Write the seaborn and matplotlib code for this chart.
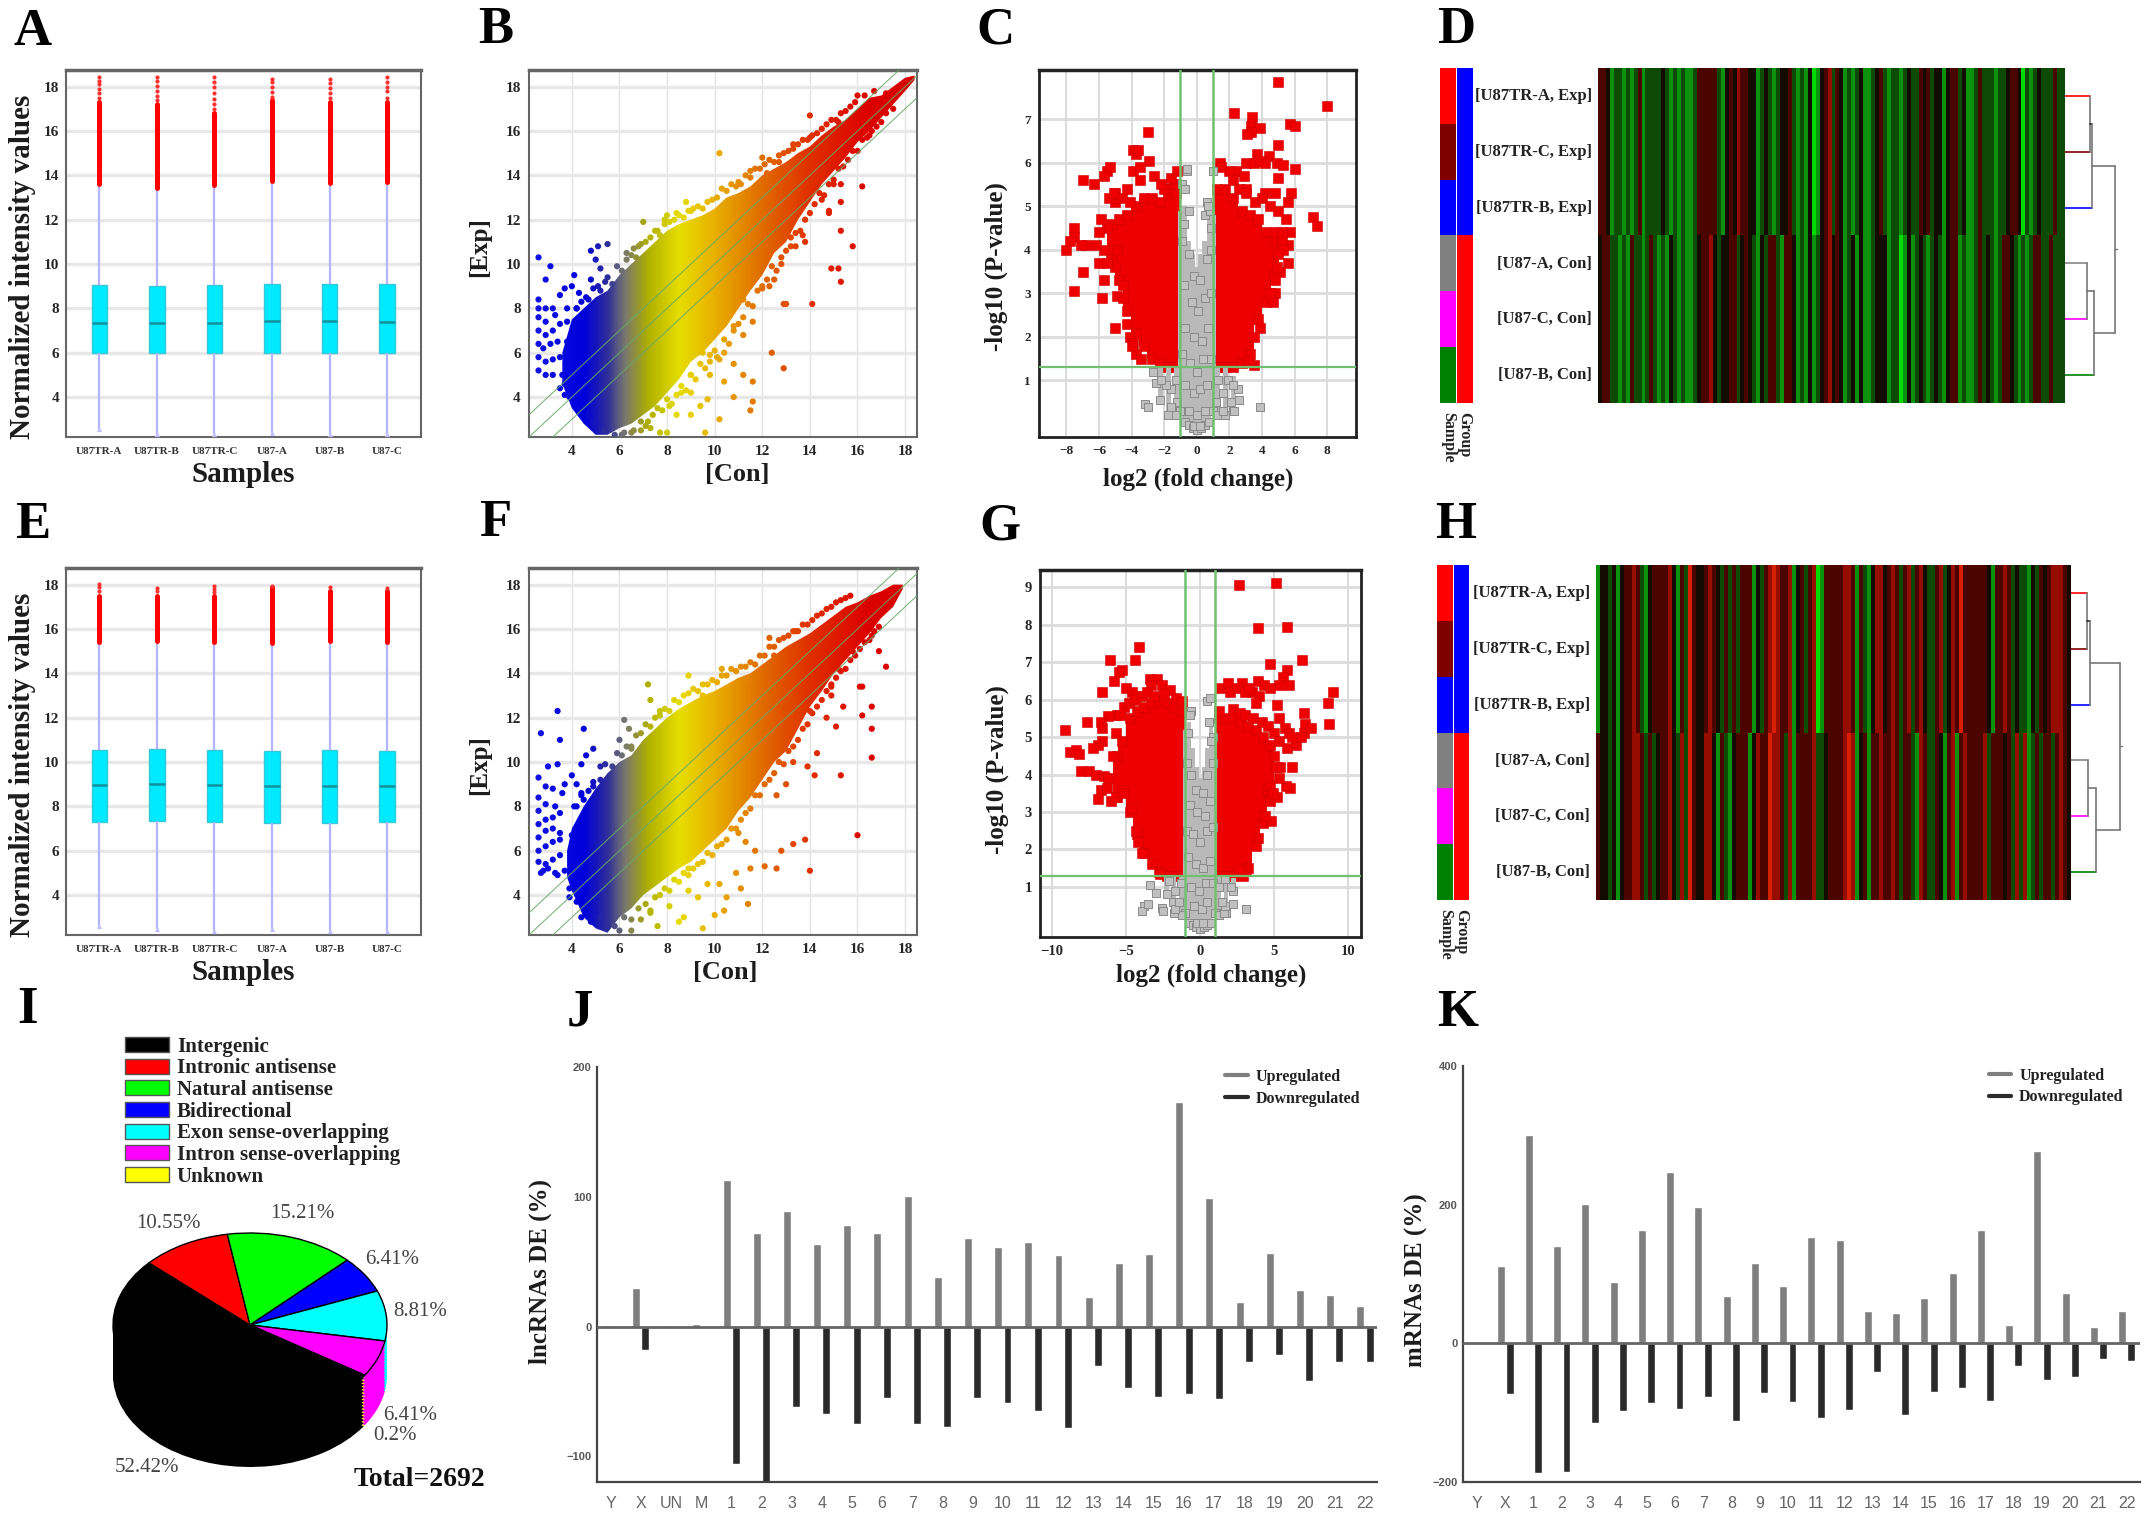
import numpy as np
import pandas as pd
import seaborn as sns
import matplotlib.pyplot as plt
from matplotlib.colors import LinearSegmentedColormap, ListedColormap
from matplotlib.lines import Line2D
from matplotlib.patches import Patch, Polygon

W, H = 2150, 1514
SERIF = 'Liberation Serif'
SANS = 'Liberation Sans'

samples = ['U87TR-A', 'U87TR-B', 'U87TR-C', 'U87-A', 'U87-B', 'U87-C']

# low whisker, q1, median, q3, high whisker
box_a = [[2.55, 6.0, 7.35, 9.05, 13.6], [2.35, 6.0, 7.33, 9.0, 13.45], [2.35, 6.0, 7.35, 9.05, 13.55],
         [2.4, 6.0, 7.42, 9.1, 13.75], [2.35, 6.0, 7.42, 9.08, 13.65], [2.35, 6.0, 7.38, 9.08, 13.7]]
dense_top_a = [17.3, 17.2, 16.8, 17.4, 17.3, 17.3]
sparse_a = [[17.5, 17.7, 17.9, 18.1, 18.25, 18.45], [17.4, 17.6, 17.8, 18.05, 18.25, 18.45],
            [17.0, 17.2, 17.45, 17.7, 18.0, 18.2, 18.45], [17.55, 17.75, 18.0, 18.2, 18.35],
            [17.5, 17.7, 17.95, 18.15, 18.35], [17.5, 17.8, 18.0, 18.2, 18.45]]
box_e = [[2.6, 7.3, 8.95, 10.55, 15.4], [2.45, 7.33, 9.0, 10.6, 15.45], [2.4, 7.3, 8.95, 10.55, 15.4],
         [2.45, 7.25, 8.9, 10.5, 15.35], [2.4, 7.25, 8.92, 10.55, 15.45], [2.4, 7.3, 8.92, 10.5, 15.4]]
dense_top_e = [17.5, 17.5, 17.5, 17.9, 17.7, 17.7]
sparse_e = [[17.7, 17.9, 18.05], [17.7, 17.85], [17.65, 17.8, 17.95], [17.95], [17.9], [17.85]]

con_grid_b = [3.6, 4, 4.5, 5, 5.5, 6, 6.5, 7, 7.5, 8, 8.5, 9, 9.5, 10, 10.5, 11, 11.5, 12, 12.5, 13, 13.5, 14,
              14.5, 15, 15.5, 16, 16.5, 17, 17.5, 18, 18.4]
exp_lo_b = [4.6, 3.5, 2.8, 2.3, 2.3, 2.6, 2.8, 3.2, 3.6, 4.2, 4.8, 5.6, 6.0, 6.6, 7.2, 8.0, 8.8, 9.5, 10.5, 11.0,
            12.0, 12.8, 13.6, 14.2, 14.8, 15.5, 16.0, 16.6, 17.2, 17.8, 18.3]
exp_hi_b = [6.0, 7.5, 8.0, 8.5, 8.8, 9.5, 10.0, 10.5, 11.0, 11.5, 11.8, 12.0, 12.2, 12.5, 13.0, 13.2, 13.5, 14.0,
            14.3, 14.6, 15.0, 15.3, 15.8, 16.2, 16.5, 17.0, 17.5, 17.6, 18.0, 18.4, 18.5]
out_x_b = [2.6, 3.1, 2.9, 2.6, 2.6, 2.9, 3.2, 2.6, 2.9, 3.3, 2.6, 2.9, 3.2, 3.5, 2.6, 2.8, 3.1, 3.4, 2.6, 2.9, 3.2, 3.5,
           2.6, 2.9, 3.2, 3.6, 3.5, 3.7, 4.0, 4.1, 4.3, 3.8, 4.2, 3.8, 3.8, 4.0, 3.5, 3.7, 4.8, 5.1, 5.5, 5.0, 5.2, 4.8,
           5.5, 4.6, 5.1, 6.8, 7.0, 6.3, 6.6, 8.0, 8.4, 8.8, 9.0, 7.6, 7.9, 10.2, 11.0, 11.5, 12.0, 12.2, 12.7, 13.3,
           14.0, 14.0, 15.2, 16.0, 17.2, 14.1, 15.3, 15.2, 14.9, 15.8, 15.3, 14.8, 14.8, 15.3, 16.2, 15.3, 14.5, 13.7,
           13.8, 13.2, 13.4, 13.0, 12.9, 12.4, 12.9, 11.6, 11.2, 11.6, 11.5, 10.4, 10.8, 10.2, 9.6, 9.4, 9.7, 9.0,
           8.4, 8.0, 7.7, 7.3, 6.5, 12.3, 12.5, 12.0, 11.2, 11.6, 11.2, 10.8, 10.4, 10.8, 9.8, 9.0, 9.5, 9.0, 10.1,
           11.9, 9.8, 8.6, 8.1, 7.2, 6.9, 6.1, 5.4, 5.0, 4.7, 13.3, 12.8, 14.5, 15.0, 16.5, 17.5]
out_y_b = [10.3, 9.9, 9.3, 8.4, 8.0, 8.0, 8.0, 7.6, 7.4, 7.7, 7.0, 6.8, 7.0, 7.3, 6.4, 6.2, 6.4, 6.5, 5.8, 5.6, 5.7, 5.8,
           5.2, 5.0, 5.0, 5.0, 8.6, 8.9, 9.0, 9.5, 8.7, 8.0, 8.0, 7.4, 6.5, 4.7, 4.4, 4.1, 10.6, 10.8, 10.9, 10.2, 9.8,
           9.3, 9.4, 8.5, 9.0, 10.8, 11.9, 10.5, 10.7, 12.2, 12.3, 12.8, 12.4, 11.5, 12.0, 15.0, 13.7, 14.2, 14.8, 14.1,
           14.6, 15.4, 16.7, 15.7, 16.4, 17.6, 17.7, 8.2, 9.2, 9.8, 9.8, 10.8, 11.5, 12.3, 12.4, 12.8, 13.5, 13.6, 14.0,
           11.3, 11.0, 11.2, 10.8, 8.2, 8.2, 6.0, 5.3, 4.7, 5.0, 3.8, 3.4, 4.7, 4.0, 3.0, 2.4, 3.6, 3.9, 4.2, 3.2, 2.4,
           2.4, 2.6, 2.4, 9.0, 9.3, 9.0, 8.4, 7.4, 6.8, 7.0, 6.0, 5.5, 5.0, 3.2, 6.0, 5.0, 5.8, 10.3, 5.6, 4.2, 3.6,
           2.9, 2.5, 2.3, 2.5, 2.8, 3.2, 12.0, 10.0, 12.9, 13.6, 15.8, 17.0]
fringe_x_b = [4.2, 4.4, 4.7, 4.9, 5.2, 5.4, 5.7, 5.9, 6.1, 6.3, 6.5, 6.7, 6.9, 7.1, 7.3, 7.5, 7.7, 7.9, 8.1, 8.3, 8.5, 8.7,
              8.9, 9.1, 9.3, 9.5, 9.7, 9.9, 10.1, 10.3, 10.5, 10.7, 10.9, 11.1, 11.3, 11.5, 11.7, 11.9, 12.1, 12.3, 12.5,
              12.7, 12.9, 13.1, 13.3, 13.5, 13.7, 13.9, 14.1, 14.3, 14.5, 14.7, 14.9, 15.1, 15.3, 15.5, 15.7, 15.9, 16.3,
              16.7, 5.8, 6.2, 6.6, 6.9, 7.1, 7.4, 7.6, 7.8, 8.0, 8.2, 8.4, 8.6, 8.8, 9.0, 9.2, 9.4, 9.6, 9.8, 10.0, 10.2,
              10.4, 10.6, 10.8, 11.0, 11.2, 11.4, 11.6, 11.8, 12.0, 12.2, 12.4, 12.6, 12.8, 13.0, 13.2, 13.4, 13.6, 13.8,
              14.0, 14.2, 14.4, 14.6, 14.8, 15.0, 15.2, 15.4, 15.6, 15.8, 16.0, 16.2, 16.4, 16.6, 16.8, 17.0, 17.2, 4.6,
              4.2, 3.9, 3.7]
fringe_y_b = [8.0, 8.3, 8.4, 8.9, 8.8, 9.2, 9.1, 9.9, 9.7, 10.2, 10.4, 10.3, 10.9, 11.0, 11.2, 11.5, 11.3, 11.8, 11.9, 12.0,
              12.2, 12.1, 12.4, 12.5, 12.6, 12.5, 12.8, 12.9, 13.0, 13.4, 13.3, 13.6, 13.5, 13.6, 14.0, 13.9, 14.3, 14.3,
              14.5, 14.7, 14.6, 14.9, 15.0, 15.1, 15.2, 15.4, 15.6, 15.6, 15.8, 15.9, 16.1, 16.3, 16.5, 16.5, 16.8, 16.9,
              17.1, 17.3, 17.6, 17.8, 2.3, 2.4, 2.5, 2.9, 2.7, 3.2, 3.5, 3.4, 3.9, 3.7, 4.1, 4.5, 4.3, 5.0, 4.8, 5.5, 5.3,
              5.9, 6.1, 5.7, 6.6, 6.4, 7.2, 7.3, 7.6, 8.2, 8.1, 8.8, 8.9, 9.3, 9.9, 9.7, 10.3, 10.6, 10.8, 11.4, 11.5, 12.0,
              12.3, 12.7, 13.2, 13.1, 13.6, 13.8, 14.3, 14.4, 14.7, 15.1, 15.1, 15.6, 15.7, 16.0, 16.2, 16.4, 16.8, 2.9,
              3.6, 4.0, 4.6]

con_grid_f = [3.8, 4, 4.5, 5, 5.5, 6, 6.5, 7, 7.5, 8, 8.5, 9, 9.5, 10, 10.5, 11, 11.5, 12, 12.5, 13, 13.5, 14, 14.5,
              15, 15.5, 16, 16.5, 17, 17.5, 17.9]
exp_lo_f = [4.8, 4.2, 3.0, 2.5, 2.3, 3.0, 3.4, 4.0, 4.4, 4.8, 5.2, 5.5, 6.0, 6.5, 7.0, 7.8, 8.4, 9.2, 10.0, 10.5,
            11.5, 12.5, 13.2, 14.0, 14.6, 15.2, 15.8, 16.5, 17.0, 17.8]
exp_hi_f = [6.0, 7.0, 8.0, 8.8, 9.5, 10.0, 10.3, 11.0, 11.5, 12.0, 12.4, 12.7, 13.0, 13.2, 13.5, 13.8, 14.0, 14.4,
            14.8, 15.2, 15.5, 15.8, 16.2, 16.6, 17.0, 17.2, 17.5, 17.7, 18.0, 18.0]
out_x_f = [3.4, 2.7, 4.5, 3.5, 2.6, 3.0, 3.4, 2.6, 2.9, 3.2, 2.6, 2.9, 3.3, 3.6, 2.6, 2.9, 3.2, 3.5, 2.6, 2.9, 3.2,
           3.5, 2.6, 2.9, 3.2, 2.6, 2.9, 3.2, 3.5, 2.7, 3.0, 3.3, 3.7, 2.8, 3.4, 3.9, 3.7, 4.0, 4.2, 4.4, 4.6, 4.9, 4.4,
           4.9, 5.2, 4.1, 4.5, 3.5, 4.0, 6.2, 6.5, 7.2, 6.0, 6.4, 7.3, 7.7, 8.9, 9.5, 10.3, 11.3, 11.8, 12.3, 12.5, 13.4,
           14.0, 15.3, 12.9, 16.6, 16.6, 17.2, 16.9, 16.6, 16.2, 16.1, 16.2, 16.6, 15.4, 15.1, 14.7, 14.9, 15.3, 14.3,
           13.8, 14.0, 13.4, 13.3, 13.9, 14.2, 16.0, 13.8, 14.0, 13.3, 12.6, 12.8, 11.7, 11.5, 11.1, 10.9, 10.4, 10.2,
           11.3, 11.0, 12.1, 11.4, 9.3, 8.9, 8.7, 8.5, 8.1, 7.6, 7.3, 6.9, 9.5, 10.0, 10.5, 9.7, 8.9, 12.6, 13.0, 14.9,
           15.2, 15.8, 6.5, 5.5, 5.2, 6.0]
out_y_f = [12.3, 11.3, 11.5, 11.0, 9.3, 9.8, 9.9, 8.4, 8.9, 8.8, 7.8, 8.1, 8.0, 8.6, 7.2, 7.4, 7.5, 7.7, 6.6, 6.9, 7.0,
           6.8, 6.0, 6.2, 6.4, 5.5, 5.4, 5.6, 5.8, 5.0, 5.2, 5.0, 5.1, 5.1, 4.9, 3.9, 9.0, 9.4, 9.0, 9.9, 10.3, 10.6, 8.6,
           8.9, 9.8, 8.0, 8.3, 6.5, 6.7, 11.9, 10.7, 13.5, 11.0, 11.5, 12.8, 12.3, 13.9, 13.0, 14.2, 13.6, 14.0, 15.6,
           14.8, 15.9, 15.1, 16.0, 14.5, 12.5, 11.5, 14.3, 15.0, 15.7, 13.4, 13.4, 12.1, 10.2, 12.5, 11.6, 12.0, 13.5,
           9.4, 10.4, 12.4, 12.3, 11.7, 10.0, 9.8, 9.4, 6.7, 6.5, 5.1, 6.3, 5.2, 6.0, 6.0, 5.2, 4.3, 5.0, 3.3, 4.5, 6.4,
           6.8, 5.3, 3.6, 3.9, 4.2, 3.0, 2.8, 3.5, 2.6, 3.3, 2.9, 2.5, 3.1, 3.9, 4.5, 5.2, 8.5, 9.0, 13.0, 14.2, 15.0, 2.4,
           2.6, 3.0, 2.4]
fringe_x_f = [4.2, 4.4, 4.7, 4.9, 5.2, 5.4, 5.7, 5.9, 6.1, 6.3, 6.5, 6.7, 6.9, 7.1, 7.3, 7.5, 7.7, 7.9, 8.1, 8.3, 8.5, 8.7,
              8.9, 9.1, 9.3, 9.5, 9.7, 9.9, 10.1, 10.3, 10.5, 10.7, 10.9, 11.1, 11.3, 11.5, 11.7, 11.9, 12.1, 12.3, 12.5,
              12.7, 12.9, 13.1, 13.3, 13.5, 13.7, 13.9, 14.1, 14.3, 14.5, 14.7, 14.9, 15.1, 15.3, 15.5, 15.7, 5.8, 6.2,
              6.5, 6.8, 7.1, 7.3, 7.5, 7.7, 7.9, 8.1, 8.3, 8.5, 8.7, 8.9, 9.1, 9.3, 9.5, 9.7, 9.9, 10.1, 10.3, 10.5, 10.7,
              10.9, 11.1, 11.3, 11.5, 11.7, 11.9, 12.1, 12.3, 12.5, 12.7, 12.9, 13.1, 13.3, 13.5, 13.7, 13.9, 14.1, 14.3,
              14.5, 14.7, 14.9, 15.1, 15.3, 15.5, 15.7, 15.9, 16.1, 16.3, 16.5, 16.7, 16.9, 4.8, 4.4, 4.2, 3.9]
fringe_y_f = [8.0, 8.5, 8.7, 9.1, 9.2, 9.9, 9.8, 10.4, 10.3, 10.7, 10.6, 11.2, 11.3, 11.7, 11.6, 12.0, 12.1, 12.4, 12.3, 12.8,
              12.7, 13.0, 13.1, 13.3, 13.2, 13.5, 13.5, 13.7, 13.6, 13.9, 13.9, 14.2, 14.1, 14.3, 14.3, 14.5, 14.4, 14.8,
              14.8, 15.2, 15.2, 15.5, 15.6, 15.7, 15.9, 15.9, 16.2, 16.2, 16.4, 16.6, 16.7, 16.9, 17.0, 17.2, 17.3, 17.4,
              17.5, 2.6, 3.0, 2.9, 3.4, 3.6, 3.2, 3.9, 4.0, 4.3, 4.2, 4.7, 4.6, 5.0, 4.9, 5.2, 5.4, 5.5, 5.9, 5.8, 6.2, 6.3,
              6.5, 7.0, 7.0, 7.4, 7.7, 7.9, 8.5, 8.5, 9.0, 9.2, 9.5, 10.0, 9.9, 10.5, 10.7, 11.0, 11.5, 11.7, 12.2, 12.5,
              12.8, 13.2, 13.4, 13.8, 14.1, 14.2, 14.6, 14.8, 15.1, 15.4, 15.5, 15.9, 16.1, 2.8, 3.0, 3.7, 4.3]

scatter_x_stops = [2.2, 4.5, 5.5, 6.2, 7.2, 8.5, 10, 12, 14, 16.5, 18.5]
scatter_colors = ['#1414e6', '#0000dc', '#303098', '#777770', '#b0b000', '#e6de00', '#e8b000', '#e06c00', '#e03000',
                  '#dc0000', '#d80000']

# volcano columns: centre of the column and the low / high edge of the solid mass
c_red_x = [-5.25, -4.75, -4.25, -3.75, -3.25, -2.75, -2.25, -1.75, -1.25, 1.25, 1.75, 2.25, 2.75, 3.25, 3.75, 4.25, 4.75]
c_red_lo = [3.8, 3.3, 2.6, 2.1, 1.8, 1.5, 1.4, 1.3, 1.3, 1.3, 1.3, 1.3, 1.4, 1.6, 2.4, 2.8, 3.4]
c_red_hi = [4.6, 4.7, 4.8, 5.0, 5.2, 5.2, 5.1, 5.3, 5.3, 5.4, 5.4, 5.2, 4.9, 4.8, 4.7, 4.4, 4.2]
c_pts_x = [-3, -3.9, -3.7, -3.6, -2.9, -5.5, -5.7, -5.3, -7, -6.3, -3.9, -3.5, -1.2, -1.4, -1.8, -2, -5, -5, -7.5, -5.5,
           -6, -7.5, -6.8, -7.1, -8, -7.8, -5.7, -6, -7, -5, -5.7, -5.8, -7.5, -4.9, -4.5, -5, -4.3, -4.1, -3.9, -3.7,
           -3.4, -4, 5, 8, 2.3, 3.4, 3.3, 3.9, 5.7, 6, 3.3, 3.1, 5, 3.7, 4.4, 3, 3.5, 3.9, 4.2, 4.9, 5.3, 6, 2.4, 2.9, 5,
           2, 1.4, 3, 4.2, 4.8, 5.6, 5.8, 7.1, 7.4, 5.5, 5.7, 5.6, 5.2, 4.8, 5.3, 5.6, 5.1, 4.8, 4.8, 4.7, 3.5, 3.2,
           -5.4, -5.1, -4.6, -4.3, -4.1, -3.5, -2.6, -2.2, -1.6, -5.9, -6.2, -5.5, -4.5, -4.9, 2.2, 2.6, 3, 3.6, 4, 4.5,
           5, 5.2, 5, 4.9, 4.5, 3.9, 3.5, 1.5]
c_pts_y = [6.7, 6.3, 6.2, 6.3, 6.05, 5.8, 5.7, 5.9, 5.6, 5.5, 5.8, 5.9, 5.8, 5.5, 5.4, 5.4, 5.3, 5.1, 4.5, 4.5, 4.4, 4.3,
           4.1, 4.1, 4.0, 4.2, 4.0, 3.7, 3.5, 3.6, 3.3, 2.9, 3.05, 2.95, 2.9, 2.2, 2.3, 2.0, 1.85, 1.6, 1.5, 1.8, 7.85, 7.3,
           7.15, 7.05, 6.85, 6.8, 6.9, 6.85, 6.7, 6.65, 6.4, 6.2, 6.15, 6.0, 6.0, 6.05, 6.0, 6.0, 5.95, 5.85, 5.8, 5.7,
           5.65, 5.8, 6.0, 5.4, 5.3, 5.3, 5.1, 5.3, 4.75, 4.55, 4.7, 4.4, 4.1, 4.2, 4.4, 4.0, 3.7, 3.5, 3.3, 3.0, 2.8,
           1.35, 1.45, 5.2, 5.3, 5.2, 5.4, 5.1, 5.6, 5.7, 5.5, 5.65, 4.7, 4.1, 3.7, 3.2, 4.0, 5.6, 5.4, 5.3, 5.1, 5.2, 5.0,
           4.9, 4.4, 3.9, 3.6, 3.0, 2.2, 2.0, 5.9]
c_gray_x = [-1, -0.75, -0.5, -0.25, 0, 0.25, 0.5, 0.75, 1, -2.25, -1.75, -1.25, 1.25, 1.75, 2.25]
c_gray_lo = [0.3, 0.05, -0.02, -0.1, -0.15, -0.1, -0.02, 0.05, 0.3, 0.55, 0.2, 0.2, 0.2, 0.2, 0.3]
c_gray_hi = [4.9, 5.0, 4.2, 3.9, 3.6, 3.9, 4.2, 5.0, 4.8, 1.3, 1.3, 1.3, 1.3, 1.3, 1.1]
c_gray_pts_x = [-0.9, -0.7, -0.6, -0.5, 0.5, 0.6, 0.8, 1.0, -3.2, -3, 3.9, -0.6, 0.7, -2.5, 2.5, -2.7, 2.6, -0.8, 0.9,
                -0.9, -0.5, -0.2, 0.2, 0.6, 0.9, -0.8, -0.3, 0.1, 0.5, 0.85, -0.7, -0.2, 0.3, 0.7, -0.9, -0.4, 0, 0.4, 0.9,
                -0.7, -0.2, 0.2, 0.6, -1.3, -1.6, -1.9, -2.2, 1.3, 1.6, 1.9, 2.2, -0.5, 0, 0.5, -0.2, 0.2, -1.2, 1.2, 1.6,
                -1.6, 2.1, 2.3]
c_gray_pts_y = [5.5, 5.4, 5.8, 4.9, 4.8, 5.1, 4.9, 5.8, 0.45, 0.4, 0.4, 5.85, 5.0, 0.95, 0.8, 1.2, 0.55, 4.6, 4.5,
                4.2, 3.9, 3.4, 3.3, 3.8, 4.0, 3.2, 2.8, 2.6, 2.9, 3.0, 2.2, 2.0, 1.9, 2.2, 1.6, 1.4, 1.2, 1.5, 1.5,
                0.9, 0.7, 0.8, 0.9, 1.0, 0.8, 0.9, 1.0, 1.0, 0.7, 1.0, 0.9, 0.3, 0.2, 0.3, -0.05, -0.05, 0.5, 0.5, 0.3,
                0.4, 0.5, 0.3]

g_red_x = [-5.6, -5.25, -4.75, -4.25, -3.75, -3.25, -2.75, -2.25, -1.75, -1.25, 1.25, 1.75, 2.25, 2.75, 3.25, 3.75, 4.25, 4.75]
g_red_lo = [3.4, 3.6, 3.0, 2.4, 1.9, 1.6, 1.4, 1.3, 1.3, 1.3, 1.3, 1.3, 1.3, 1.4, 1.5, 2.1, 2.7, 3.3]
g_red_hi = [4.5, 4.9, 5.5, 5.7, 5.8, 5.9, 6.0, 5.9, 5.8, 5.7, 5.5, 5.5, 5.5, 5.4, 5.3, 5.2, 5.0, 4.8]
g_pts_x = [-4.1, -4.4, -6.1, -5.3, -5.5, -5.8, -3.4, -2.9, -3.3, -2.6, -2, -6.6, -5, -4.6, -4.4, -5.6, -6.2, -6.7, -7.6,
           -6.6, -9.1, -6.6, -6.9, -7.2, -8.8, -8.4, -8.2, -8, -7.5, -7, -6.5, -6.2, -6.7, -6.3, -6.9, -6, -5.7, -4.2,
           -3.9, -2.7, 5.1, 2.6, 3.9, 5.9, 4.7, 6.9, 5.9, 5.6, 5.3, 6, 1.4, 1.9, 2.8, 3.9, 4.3, 4.7, 3.5, 4, 3.8, 2, 2.5,
           3, 3.3, 5.2, 5.3, 5.7, 6, 6.5, 6.2, 5.9, 6.2, 6.1, 5.8, 5.3, 5.2, 4.8, 7, 7.1, 7, 7.5, 6.8, 8.6, 8.95, 8.7,
           3.1, 2.9, 2.6, 5.0, 5.4, 4.6, -5.4, -5.1, -4.8, -4.4, -3.9, -3.6, -3.1, -2.4, -1.6, -1.2, -5.7, -5.9, -5.2,
           -4.6, -4.3, 1.3, 2.2, 2.7, 3.0, 3.6, 4.2, 4.6, 5.0, 5.3, 5.1, 4.7, 4.4, 3.9, 4.9]
g_pts_y = [7.4, 7.05, 7.05, 6.8, 6.75, 6.5, 6.55, 6.55, 6.4, 6.4, 6.25, 6.2, 6.3, 6.2, 6.1, 5.6, 5.55, 5.4, 5.4, 5.25, 5.2,
           4.9, 4.8, 4.7, 4.6, 4.65, 4.55, 4.1, 4.1, 4.0, 3.95, 3.9, 3.6, 3.65, 3.35, 3.3, 3.4, 2.2, 1.9, 1.35, 9.1, 9.05,
           7.9, 7.95, 6.95, 7.05, 6.8, 6.6, 6.4, 6.4, 6.3, 6.45, 6.45, 6.5, 6.4, 6.3, 6.2, 6.1, 5.9, 6.2, 6.3, 6.2, 6.3,
           5.85, 5.5, 5.25, 5.1, 4.8, 5.0, 4.7, 4.2, 3.65, 3.7, 3.9, 3.4, 2.75, 5.65, 5.35, 5.1, 5.25, 5.0, 5.9, 6.2, 5.35,
           1.45, 1.3, 1.45, 4.5, 4.2, 3.6, 5.6, 5.8, 5.9, 6.0, 6.1, 6.2, 6.1, 6.15, 6.05, 5.95, 5.1, 4.5, 3.5, 3.1, 2.5, 5.7,
           5.75, 5.65, 5.6, 5.5, 5.4, 5.3, 5.1, 4.9, 4.2, 3.7, 2.9, 2.3, 3.5]
g_gray_x = [-1, -0.75, -0.5, -0.25, 0, 0.25, 0.5, 0.75, 1, -2.25, -1.75, -1.25, 1.25, 1.75, 2.25]
g_gray_lo = [0.3, 0.05, -0.02, -0.08, -0.12, -0.08, -0.02, 0.05, 0.3, 0.8, 0.3, 0.25, 0.25, 0.3, 0.9]
g_gray_hi = [5.2, 5.4, 4.7, 4.2, 3.9, 4.2, 4.7, 5.3, 5.0, 1.3, 1.3, 1.3, 1.3, 1.3, 1.25]
g_gray_pts_x = [-3.4, -3, -3.8, -3.9, -3.5, -2.6, -2.5, -1.8, -1.7, 3.1, 2.2, 1.6, 1.7, -0.6, 0.5, 0.7, 0.9, -0.8, -0.7,
                0.6, 0.75, -0.9, -0.6, -0.3, 0.2, 0.5, 0.9, -0.7, -0.2, 0.3, 0.7, -0.9, -0.5, 0, 0.5, 0.85, -0.8, -0.3,
                0.2, 0.7, -0.6, -0.1, 0.4, 0.9, -0.4, 0.1, 0.5, -0.2, 0.2, -1.3, -1.7, -2.1, 1.3, 1.7, 2.1, -1.4, 1.5]
g_gray_pts_y = [1.05, 0.85, 0.5, 0.35, 0.55, 0.45, 0.35, 0.6, 0.4, 0.4, 0.55, 0.3, 0.5, 5.7, 5.95, 6.05, 5.0, 5.1, 5.6,
                5.4, 4.9, 4.3, 4.0, 3.6, 3.5, 4.0, 4.3, 3.2, 3.0, 2.9, 3.3, 2.5, 2.4, 2.2, 2.5, 2.6, 1.8, 1.6, 1.5, 1.7,
                1.0, 0.9, 1.1, 1.1, 0.5, 0.4, 0.6, 0.05, 0.05, 1.1, 0.9, 1.15, 1.0, 1.2, 1.0, 0.6, 0.6]

row_names = ['[U87TR-A, Exp]', '[U87TR-C, Exp]', '[U87TR-B, Exp]', '[U87-A, Con]', '[U87-C, Con]', '[U87-B, Con]']
sample_colors = ['#ff0000', '#800000', '#0000ff', '#808080', '#ff00ff', '#008000']
group_codes = [0, 0, 0, 1, 1, 1]
group_colors = ['#0000ff', '#ff0000']

stripes_exp_d = [1, 1, 0, -2, -1, -1, -2, -1, -2, -1, 1, -2, -1, -1, -1, -1, 0, -1, -2, -1, -2, -1, -2, -2, -1, 1, 1, 1, 1, 1,
                 -1, -2, 0, 1, 0, 2, 1, 1, 0, 0, -2, -1, 0, -1, -2, -1, 0, 0, 1, -1, -2, -1, -2, 0, -3, -2, 0, 1, 2, -1,
                 1, 0, -2, -1, -2, -1, 0, -2, -2, -1, 0, 1, -1, -2, -1, -1, -2, -1, 0, -1, -1, 1, 0, 1, -1, 0, 0, -2, 0, 1,
                 1, -1, 0, -2, -2, -1, 1, -1, -1, -1, -2, -1, -1, 0, 1, 1, 0, -3, -1, -2, -1, 0, -1, -1, -1, 1, -1, -1]
stripes_con_d = [0, 1, 1, -1, -1, -2, -1, -2, 1, -1, -1, -2, -1, 1, -1, -2, -1, -2, 0, -1, -2, -1, -2, -2, -1, 0, 1, 1, 2, 0,
                 -1, 0, 0, 1, 1, -1, 0, 1, 0, -1, -2, 0, -1, 1, 1, -1, -2, 1, 1, 0, -2, -1, -2, 0, -2, -1, 0, 1, 2, 0,
                 1, 0, -2, -1, 0, -2, 0, -2, -2, -1, 0, 0, 0, -2, -1, -1, -3, -2, 0, -2, -1, 0, -1, -2, -1, 0, -1, -2, 0, 1,
                 1, -2, -1, -2, -2, -1, 1, -1, 0, -1, -2, -1, 1, 1, 0, -1, -2, -1, -2, -1, 1, 1, -1, -1, 1, -1, -1, -1]
stripes_exp_h = [-2, 0, 0, -1, 0, -2, 0, 1, 1, 2, 1, -1, -2, 0, 1, 1, 1, 1, 2, 0, -2, 1, -1, 3, 1, 0, 0, 1, 2, 1, 0, -1, 1, -1,
                 1, -1, 1, 1, 1, -2, 0, -1, 1, 2, 3, 2, 1, 1, 2, -2, 0, 1, -1, 1, 2, -3, -2, 1, 1, 1,
                 1, 1, 2, 2, 1, -2, 1, -1, -2, 0, 2, 2, 0, 1, 2, 1, -1, 1, 2, -1, 1, 2, 0, -1, -1, 1, 2, -1, 0, 2, 1, 3, 1,
                 1, 1, 1, 1, 1, 0, -2, 1, 1, 2, 1, -1, 0, -1, -1, -2, 0, -1, 1, 0, 1, 2, 2, 2, 1, 0]
stripes_con_h = [1, 0, 0, -1, 0, -2, 0, 1, 1, 2, 2, 1, -1, 1, -1, 0, 1, 1, 2, 0, -1, 2, -1, 3, 1, 0, 0, 2, 2, 0, -2, 1, -1, -2,
                 0, 1, 1, 1, -2, 0, 2, 1, 1, 3, 2, 2, 1, -1, 2, -2, 1, 1, 1, 1, 2, -1, -1, 0, 1, 1,
                 1, 1, 2, 3, 2, -2, 0, 1, -2, 1, 1, 2, 1, 1, 2, 1, -1, 1, 1, -1, -2, 2, 1, -1, -1, 1, 0, -2, 1, 2, -2, 1, 2,
                 1, 1, 1, 1, 2, -1, 1, 1, 1, 0, 1, -1, 2, -1, 2, -2, -1, 1, -1, 1, 1, -1, 1, 2, 1, 0]

# dendrogram merge heights: top pair, top join, bottom pair, bottom join, root
tree_d = [25, 27, 22, 29, 50]
tree_h = [16, 19, 17, 25, 49]

pie_names = ['Intergenic', 'Intronic antisense', 'Natural antisense', 'Bidirectional', 'Exon sense-overlapping',
             'Intron sense-overlapping', 'Unknown']
pie_values = [52.42, 10.55, 15.21, 6.41, 8.81, 6.41, 0.2]
pie_colors = ['#000000', '#ff0000', '#00ff00', '#0000ff', '#00ffff', '#ff00ff', '#ffff00']

chrom_j = ['Y', 'X', 'UN', 'M'] + [str(i) for i in range(1, 23)]
up_j = [1, 30, 1, 2, 113, 72, 89, 64, 78, 72, 101, 38, 68, 61, 65, 55, 23, 49, 56, 173, 99, 19, 57, 28, 24, 16]
down_j = [0, -18, 0, 0, -106, -122, -62, -67, -75, -55, -75, -77, -55, -59, -65, -78, -30, -47, -54, -52, -56, -27, -22,
          -42, -27, -27]
chrom_k = ['Y', 'X'] + [str(i) for i in range(1, 23)]
up_k = [0, 111, 300, 141, 201, 89, 163, 247, 197, 68, 116, 82, 154, 149, 46, 44, 66, 102, 164, 26, 277, 73, 23, 46]
down_k = [0, -73, -187, -186, -115, -97, -86, -95, -77, -112, -72, -84, -107, -96, -41, -103, -70, -65, -83, -32, -53,
          -48, -23, -26]

sns.set_theme(style='white')
plt.rcParams['font.family'] = [SERIF, 'DejaVu Serif']
plt.rcParams['font.weight'] = 'bold'

fig = plt.figure(figsize=(W / 100, H / 100), dpi=100, facecolor='white')


def px_axes(l, t, r, b):
    return fig.add_axes([l / W, 1 - b / H, (r - l) / W, (b - t) / H])


def px_text(x, y, s, **kw):
    kw.setdefault('ha', 'center')
    kw.setdefault('va', 'center')
    fig.text(x / W, 1 - y / H, s, **kw)


def frame(ax, color, lw=1.5, top=2.5):
    for name, spine in ax.spines.items():
        spine.set_visible(True)
        spine.set_color(color)
        spine.set_linewidth(top if name == 'top' else lw)


def boxes(ax, stats, dense_top, sparse):
    df = pd.DataFrame({'sample': [s for s in samples for _ in range(5)], 'value': np.ravel(stats)})
    ax.set_axisbelow(True)
    ax.grid(axis='y', color='#e8e8e8', lw=2.5)
    sns.boxplot(data=df, x='sample', y='value', order=samples, whis=(0, 100), width=0.27, fliersize=0, ax=ax,
                color='#00e6ff', saturation=1,
                boxprops=dict(facecolor='#00eaff', edgecolor='#35c8d8', lw=1),
                whiskerprops=dict(color='#b4b4ff', lw=1.6), capprops=dict(lw=0),
                medianprops=dict(color='#12909c', lw=1.8))
    for i, name in enumerate(samples):
        ax.plot([i, i], [stats[i][4], dense_top[i]], color='#ff0000', lw=3.6, solid_capstyle='round', zorder=4)
        ax.scatter([i] * len(sparse[i]), sparse[i], s=9, color='#ff3030', lw=0, zorder=4)
        ax.scatter([i], [stats[i][0]], s=14, marker='^', color='#c0c0ff', lw=0, zorder=4)
    ax.set_xlim(-0.58, 5.59)
    ax.set_ylim(2.2, 18.75)
    ax.set_yticks(range(4, 19, 2))
    ax.set_xlabel('')
    ax.set_ylabel('')
    ax.tick_params(axis='y', length=3, width=0.8, labelsize=11, color='#666666', pad=2)
    ax.tick_params(axis='x', length=3, width=0.8, labelsize=8, color='#666666', pad=4, labelcolor='#333333')
    frame(ax, '#666666')


def cloud(ax, grid, lo, hi, px, py):
    cmap = LinearSegmentedColormap.from_list(
        'xa', [((s - 2.2) / 16.3, c) for s, c in zip(scatter_x_stops, scatter_colors)])
    ax.set_axisbelow(True)
    ax.grid(axis='y', color='#e8e8e8', lw=2.5)
    ax.grid(axis='x', color='#e4e4e4', lw=1)
    img = ax.imshow(np.linspace(0, 1, 400).reshape(1, -1), extent=(2.2, 18.5, 2.2, 18.75), aspect='auto', cmap=cmap,
                    vmin=0, vmax=1, zorder=2)
    outline = np.column_stack([list(grid) + list(grid)[::-1], list(lo) + list(hi)[::-1]])
    patch = Polygon(outline, closed=True, transform=ax.transData, facecolor='none', edgecolor='none')
    ax.add_patch(patch)
    img.set_clip_path(patch)
    sns.scatterplot(x=px, y=py, hue=px, palette=cmap, hue_norm=(2.2, 18.5), legend=False, s=20, linewidth=0, ax=ax,
                    zorder=3)
    for offset in (-1, 0, 1):
        ax.axline((5, 5 + offset), slope=1, color='#6aa86a', lw=0.8, alpha=0.85, zorder=4)
    ax.set_xlim(2.2, 18.5)
    ax.set_ylim(2.2, 18.75)
    ax.set_xticks(range(4, 19, 2))
    ax.set_yticks(range(4, 19, 2))
    ax.tick_params(length=3, width=0.8, labelsize=11, color='#666666', pad=3)
    frame(ax, '#666666')


def volcano(ax, red_x, red_lo, red_hi, pts_x, pts_y, gray_x, gray_lo, gray_hi, gpts_x, gpts_y, msize):
    ax.set_axisbelow(True)
    ax.grid(axis='y', color='#dcdcdc', lw=2)
    ax.grid(axis='x', color='#d4d4d4', lw=1.2)
    ax.bar(red_x, np.array(red_hi) - np.array(red_lo), bottom=red_lo, width=0.54, color='#ee0000', lw=0, zorder=2)
    both_x = list(red_x) + list(red_x) + list(pts_x)
    both_y = list(red_lo) + list(red_hi) + list(pts_y)
    sns.scatterplot(x=both_x, y=both_y, marker='s', color='#ee0000', edgecolor='#d00000', linewidth=0.4, s=msize, ax=ax,
                    zorder=3)
    ax.bar(gray_x, np.array(gray_hi) - np.array(gray_lo), bottom=gray_lo, width=0.3, color='#b9b9b9', lw=0, zorder=4)
    sns.scatterplot(x=list(gray_x) + list(gpts_x), y=list(gray_lo) + list(gpts_y), marker='s', color='#c0c0c0',
                    edgecolor='#8a8a8a', linewidth=0.7, s=msize * 0.75, ax=ax, zorder=5)
    ax.axvline(-1, color='#70c070', lw=1.8, zorder=6)
    ax.axvline(1, color='#70c070', lw=1.8, zorder=6)
    ax.axhline(1.3, color='#70c070', lw=1.6, zorder=6)
    frame(ax, '#222222', lw=2, top=2.5)


def heat_block(top, bottom, heat_l, heat_r, strip, stripes_exp, stripes_con, tree, label_x):
    cmap = LinearSegmentedColormap.from_list(
        'gbr', [(0, '#00dc00'), (1 / 6, '#0c900c'), (2 / 6, '#0d4a05'), (0.5, '#120a00'), (4 / 6, '#4a0500'),
                (5 / 6, '#950c00'), (1, '#d82000')])
    ax = px_axes(heat_l, top, heat_r, bottom)
    matrix = np.array([stripes_exp] * 3 + [stripes_con] * 3)
    sns.heatmap(matrix, cmap=cmap, vmin=-3, vmax=3, cbar=False, xticklabels=False, yticklabels=False, ax=ax)

    ax = px_axes(strip[0], top, strip[1], bottom)
    sns.heatmap(np.arange(6).reshape(-1, 1), cmap=ListedColormap(sample_colors), cbar=False, xticklabels=False,
                yticklabels=False, ax=ax)
    ax = px_axes(strip[1] + 1, top, strip[2], bottom)
    sns.heatmap(np.array(group_codes).reshape(-1, 1), cmap=ListedColormap(group_colors), cbar=False, xticklabels=False,
                yticklabels=False, ax=ax)
    px_text((strip[0] + strip[1]) / 2, bottom + 9, 'Sample', rotation=270, fontsize=11.5, va='top', color='#222222')
    px_text((strip[1] + strip[2]) / 2, bottom + 9, 'Group', rotation=270, fontsize=11.5, va='top', color='#222222')

    row_h = (bottom - top) / 6
    for i, name in enumerate(row_names):
        px_text(label_x, top + row_h * (i + 0.5), name, ha='right', fontsize=12, color='#222222')

    ax = px_axes(heat_r, top, heat_r + 56, bottom)
    ax.axis('off')
    ax.set_xlim(0, 56)
    ax.set_ylim(6, 0)
    h1, h2, h3, h4, h5 = tree
    gray = '#777777'
    leaf_h = [h1, h1, h2, h3, h3, h4]
    for i, c in enumerate(sample_colors):
        ax.plot([0, leaf_h[i]], [i + 0.5, i + 0.5], color='#888888' if c == '#808080' else c, lw=1.2)
    ax.plot([h1, h1], [0.5, 1.5], color=gray, lw=1.2)
    ax.plot([h1, h2], [1, 1], color='#222222', lw=1.2)
    ax.plot([h2, h2], [1, 2.5], color=gray, lw=1.2)
    ax.plot([h2, h5], [1.75, 1.75], color=gray, lw=1.2)
    ax.plot([h3, h3], [3.5, 4.5], color=gray, lw=1.2)
    ax.plot([h3, h4], [4, 4], color=gray, lw=1.2)
    ax.plot([h4, h4], [4, 5.5], color=gray, lw=1.2)
    ax.plot([h4, h5], [4.75, 4.75], color=gray, lw=1.2)
    ax.plot([h5, h5], [1.75, 4.75], color=gray, lw=1.2)
    ax.plot([h5, h5 + 1.5], [3.25, 3.25], color=gray, lw=1)


def updown(ax, chrom, up, down, ylim, yticks, xlim, width, gap):
    df = pd.DataFrame({'chrom': chrom + chrom, 'value': up + down, 'kind': ['Up'] * len(up) + ['Down'] * len(down)})
    sns.barplot(data=df, x='chrom', y='value', hue='kind', order=chrom, hue_order=['Up', 'Down'], dodge=True, width=width,
                gap=gap, palette={'Up': '#7f7f7f', 'Down': '#2a2a2a'}, saturation=1, legend=False, ax=ax, zorder=2)
    ax.axhline(0, color='#666666', lw=2, zorder=3)
    ax.set_xlim(*xlim)
    ax.set_ylim(*ylim)
    ax.set_yticks(yticks)
    ax.set_xlabel('')
    ax.set_ylabel('')
    sns.despine(ax=ax)
    for side in ('left', 'bottom'):
        ax.spines[side].set_color('#444444')
        ax.spines[side].set_linewidth(1.6)
    ax.tick_params(axis='x', length=4, width=1.2, color='#555555', pad=6, labelsize=11.5, labelcolor='#666666')
    ax.tick_params(axis='y', length=3, width=1, color='#555555', pad=1, labelsize=8, labelcolor='#555555')
    for t in ax.get_xticklabels():
        t.set_family(SANS)
        t.set_weight('normal')
    for t in ax.get_yticklabels():
        t.set_family(SANS)
    handles = [Line2D([], [], color='#7f7f7f', lw=3), Line2D([], [], color='#2a2a2a', lw=3)]
    ax.legend(handles, ['Upregulated', 'Downregulated'], loc='upper right', bbox_to_anchor=(0.997, 1.03), frameon=False,
              fontsize=11.5, handlelength=1.4, handletextpad=0.5, labelspacing=0.35, labelcolor='#222222')


# A, E
ax = px_axes(66, 70, 421, 437)
boxes(ax, box_a, dense_top_a, sparse_a)
ax = px_axes(66, 568, 421, 935)
boxes(ax, box_e, dense_top_e, sparse_e)
# B, F
ax = px_axes(529, 70, 917, 437)
cloud(ax, con_grid_b, exp_lo_b, exp_hi_b, out_x_b + fringe_x_b, out_y_b + fringe_y_b)
ax = px_axes(529, 568, 917, 935)
cloud(ax, con_grid_f, exp_lo_f, exp_hi_f, out_x_f + fringe_x_f, out_y_f + fringe_y_f)

# C, G
ax = px_axes(1039, 70, 1356, 437)
volcano(ax, c_red_x, c_red_lo, c_red_hi, c_pts_x, c_pts_y, c_gray_x, c_gray_lo, c_gray_hi, c_gray_pts_x, c_gray_pts_y, 52)
ax.set_xlim(-9.67, 9.76)
ax.set_ylim(-0.3, 8.13)
ax.set_xticks(range(-8, 9, 2))
ax.set_yticks(range(1, 8))
ax.tick_params(length=3, width=0.8, labelsize=9.5, color='#444444', pad=3)
ax = px_axes(1040, 570, 1361, 937)
volcano(ax, g_red_x, g_red_lo, g_red_hi, g_pts_x, g_pts_y, g_gray_x, g_gray_lo, g_gray_hi, g_gray_pts_x, g_gray_pts_y, 52)
ax.set_xlim(-10.8, 10.86)
ax.set_ylim(-0.336, 9.46)
ax.set_xticks(range(-10, 11, 5))
ax.set_yticks(range(1, 10))
ax.tick_params(length=3, width=0.8, labelsize=10.5, color='#444444', pad=3)

# D, H
heat_block(68, 403, 1598, 2065, (1440, 1456, 1473), stripes_exp_d, stripes_con_d, tree_d, 1592)
heat_block(565, 900, 1596, 2071, (1437, 1453, 1469), stripes_exp_h, stripes_con_h, tree_h, 1590)

# I
ax = px_axes(113, 1233, 387, 1467)
depth_steps = np.linspace(0.543, 0.02, 16)
for d in depth_steps:
    ax.pie(pie_values, colors=pie_colors, startangle=326.2, counterclock=False, center=(0, -d), radius=1,
           wedgeprops=dict(lw=0))
ax.pie(pie_values, colors=pie_colors, startangle=326.2, counterclock=False, radius=1,
       wedgeprops=dict(edgecolor='#000000', lw=1))
ax.set_aspect('auto')
ax.set_xlim(-1, 1)
ax.set_ylim(-1.543, 1)
pie_handles = [Patch(facecolor=c, edgecolor='#555555', lw=1) for c in pie_colors]
fig.legend(pie_handles, pie_names, loc='upper left', bbox_to_anchor=(106 / W, 1 - 1018 / H), frameon=False, fontsize=15,
           handlelength=2.1, handleheight=0.75, handletextpad=0.4, labelspacing=0.08, labelcolor='#222222')
pie_label_text = ['10.55%', '15.21%', '6.41%', '8.81%', '6.41%', '0.2%', '52.42%']
pie_label_x = [168, 302, 392, 420, 410, 395, 147]
pie_label_y = [1223, 1213, 1260, 1312, 1415, 1436, 1467]
for s, x, y in zip(pie_label_text, pie_label_x, pie_label_y):
    px_text(x, y, s, fontsize=15, weight='normal', color='#444444')
px_text(420, 1480, 'Total=2692', fontsize=20, color='#111111')

# J, K
ax = px_axes(597, 1067, 1377, 1482)
updown(ax, chrom_j, up_j, down_j, (-119.7, 200), [-100, 0, 100, 200], (-0.45, 25.4), 0.62, 0.15)
ax = px_axes(1463, 1066, 2140, 1482)
updown(ax, chrom_k, up_k, down_k, (-200, 400), [-200, 0, 200, 400], (-0.5, 23.47), 0.66, 0.15)

# axis titles
axis_titles = [(23, 267, 'Normalized intensity values', 90, 21), (243, 475, 'Samples', 0, 21), (480, 247, '[Exp]', 90, 18),
               (737, 475, '[Con]', 0, 19), (996, 267, '-log10 (P-value)', 90, 18), (1198, 479, 'log2 (fold change)', 0, 18),
               (23, 765, 'Normalized intensity values', 90, 21), (243, 973, 'Samples', 0, 21), (480, 765, '[Exp]', 90, 18),
               (725, 973, '[Con]', 0, 19), (997, 770, '-log10 (P-value)', 90, 18), (1211, 975, 'log2 (fold change)', 0, 18),
               (540, 1272, 'lncRNAs DE (%)', 90, 18), (1416, 1280, 'mRNAs DE (%)', 90, 18)]
for x, y, s, rot, size in axis_titles:
    px_text(x, y, s, rotation=rot, fontsize=size, color='#1c1c1c')

panel_letters = ['A', 'B', 'C', 'D', 'E', 'F', 'G', 'H', 'I', 'J', 'K']
letter_x = [33, 496, 995, 1456, 33, 495, 1000, 1456, 27, 580, 1458]
letter_y = [32, 30, 30, 30, 525, 523, 527, 525, 1010, 1013, 1013]
for s, x, y in zip(panel_letters, letter_x, letter_y):
    px_text(x, y, s, fontsize=38, color='black')

fig.savefig('out.png', dpi=100, facecolor='white')
